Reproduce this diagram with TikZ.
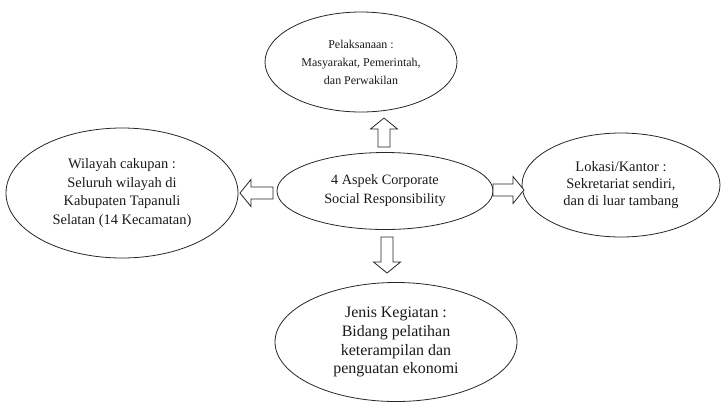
\documentclass[tikz,border=0pt]{standalone}
\usepackage{fontspec}
\setmainfont{Liberation Serif}
\usetikzlibrary{shapes.geometric,calc}
\newcommand\blockarr[3]{%
  \path coordinate (#3n) at ($(#2)!11bp!(#1)$);
  \draw[barrow] ($(#1)!6bp!90:(#2)$) -- ($(#3n)!6bp!90:(#2)$) -- ($(#3n)!13.5bp!90:(#2)$) -- (#2)
    -- ($(#3n)!13.5bp!-90:(#2)$) -- ($(#3n)!6bp!-90:(#2)$) -- ($(#1)!6bp!-90:(#2)$) -- cycle;}
\begin{document}
\begin{tikzpicture}[x=1bp,y=-1bp,
  oval/.style={ellipse, draw=black!85, line width=0.8bp, inner sep=0pt, align=center, text=black!90},
  barrow/.style={draw=black!85, line width=0.8bp, fill=white, line join=miter}]
\useasboundingbox (0,0) rectangle (725,405);
\node[oval, minimum width=192bp, minimum height=100bp, font=\fontsize{12}{18}\selectfont] (top) at (361,62)
  {Pelaksanaan :\\Masyarakat, Pemerintah,\\dan Perwakilan};
\node[oval, minimum width=216bp, minimum height=77bp, font=\fontsize{14.3}{19}\selectfont] (center) at (385,191)
  {4 Aspek Corporate\\Social Responsibility};
\node[oval, minimum width=232bp, minimum height=130bp, font=\fontsize{14.5}{18.5}\selectfont] (left) at (122,193)
  {Wilayah cakupan :\\Seluruh wilayah di\\Kabupaten Tapanuli\\Selatan (14 Kecamatan)};
\node[oval, minimum width=198bp, minimum height=104bp, font=\fontsize{14.5}{17}\selectfont] (right) at (621,185)
  {Lokasi/Kantor :\\Sekretariat sendiri,\\dan di luar tambang};
\node[oval, minimum width=242bp, minimum height=119bp, font=\fontsize{16}{19}\selectfont] (bottom) at (396,342)
  {Jenis Kegiatan :\\Bidang pelatihan\\keterampilan dan\\penguatan ekonomi};
\coordinate (upA) at (384,147);
\coordinate (upB) at (384,118);
\coordinate (lfA) at (273,193);
\coordinate (lfB) at (240,193);
\coordinate (rtA) at (493,190);
\coordinate (rtB) at (524,190);
\coordinate (dnA) at (387,237);
\coordinate (dnB) at (387,273);
\blockarr{upA}{upB}{up}
\blockarr{lfA}{lfB}{lf}
\blockarr{rtA}{rtB}{rt}
\blockarr{dnA}{dnB}{dn}
\end{tikzpicture}
\end{document}
